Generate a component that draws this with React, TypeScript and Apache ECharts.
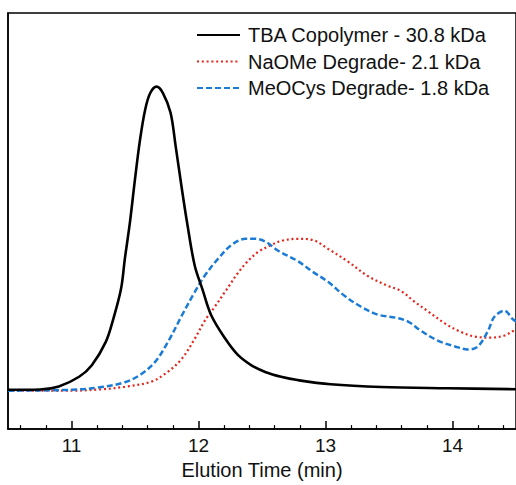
import React, { useEffect, useRef } from "react";
import * as echarts from "echarts";

// Elution time (min) and normalized detector signal for each trace
const tbaTime = [10.5, 10.75, 10.9, 11.06, 11.16, 11.27, 11.33, 11.39, 11.42, 11.46, 11.5, 11.54, 11.58, 11.62, 11.67, 11.72, 11.78, 11.82, 11.87, 11.91, 11.97, 12.03, 12.1, 12.21, 12.31, 12.42, 12.53, 12.65, 12.78, 13.04, 13.44, 13.96, 14.5];
const tbaSignal = [0, 0.001, 0.011, 0.043, 0.081, 0.158, 0.235, 0.333, 0.432, 0.552, 0.695, 0.826, 0.924, 0.979, 1.0, 0.979, 0.914, 0.804, 0.66, 0.552, 0.41, 0.333, 0.246, 0.169, 0.115, 0.08, 0.058, 0.043, 0.032, 0.018, 0.009, 0.005, 0.002];

const naomeTime = [10.5, 11.0, 11.25, 11.42, 11.63, 11.76, 11.87, 11.97, 12.05, 12.13, 12.22, 12.31, 12.39, 12.47, 12.57, 12.65, 12.78, 12.9, 13.02, 13.18, 13.33, 13.49, 13.59, 13.7, 13.81, 13.94, 14.06, 14.17, 14.3, 14.41, 14.48, 14.5];
const naomeSignal = [-0.003, -0.003, 0.002, 0.01, 0.027, 0.06, 0.103, 0.168, 0.228, 0.275, 0.33, 0.385, 0.425, 0.455, 0.477, 0.491, 0.498, 0.494, 0.465, 0.422, 0.376, 0.343, 0.327, 0.291, 0.258, 0.219, 0.192, 0.176, 0.172, 0.179, 0.195, 0.2];

const meocysTime = [10.5, 11.0, 11.22, 11.42, 11.55, 11.66, 11.76, 11.87, 11.97, 12.05, 12.16, 12.26, 12.37, 12.45, 12.53, 12.63, 12.78, 12.89, 13.02, 13.15, 13.28, 13.41, 13.55, 13.65, 13.75, 13.88, 14.02, 14.12, 14.2, 14.28, 14.33, 14.41, 14.47, 14.5];
const meocysSignal = [-0.003, 0.0, 0.008, 0.025, 0.052, 0.093, 0.158, 0.246, 0.322, 0.377, 0.435, 0.478, 0.498, 0.498, 0.488, 0.458, 0.425, 0.392, 0.356, 0.31, 0.274, 0.248, 0.238, 0.225, 0.195, 0.163, 0.143, 0.133, 0.143, 0.195, 0.241, 0.261, 0.235, 0.225];

const seriesNames = ["TBA Copolymer - 30.8 kDa", "NaOMe Degrade- 2.1 kDa", "MeOCys Degrade- 1.8 kDa"];
const majorTicks = [11, 12, 13, 14];
const minorTicks = [10.6, 10.8, 11.2, 11.4, 11.6, 11.8, 12.2, 12.4, 12.6, 12.8, 13.2, 13.4, 13.6, 13.8, 14.2, 14.4];
const xTitle = "Elution Time (min)";

const zip = (xs: number[], ys: number[]) => xs.map((x, i) => [x, ys[i]]);

const FONT = "'Liberation Sans', Arial, Helvetica, sans-serif";

export default function App() {
  const ref = useRef<HTMLDivElement>(null);
  useEffect(() => {
    if (!ref.current) return;
    const chart = echarts.init(ref.current, null, { renderer: "svg" });
    const common = {
      type: "line",
      showSymbol: false,
      symbol: "none",
      smooth: 0.35,
      xAxisIndex: 0,
      yAxisIndex: 0,
    };
    chart.setOption({
      animation: false,
      backgroundColor: "#ffffff",
      grid: {
        left: 8,
        right: -3,
        top: 13,
        bottom: 54,
        show: true,
        borderColor: "#000",
        borderWidth: 1.5,
        backgroundColor: "transparent",
      },
      legend: {
        orient: "vertical",
        left: 196,
        top: 25,
        padding: 0,
        itemWidth: 43,
        itemHeight: 14,
        itemGap: 6.5,
        itemStyle: { opacity: 0 },
        textStyle: { fontFamily: FONT, fontSize: 20, color: "#111", padding: [0, 0, 0, 3] },
        data: seriesNames,
      },
      xAxis: [
        {
          type: "value",
          min: 10.5,
          max: 14.5,
          position: "bottom",
          name: xTitle,
          nameLocation: "middle",
          nameGap: 23,
          nameTextStyle: { fontFamily: FONT, fontSize: 20, color: "#111" },
          axisLine: { show: true, onZero: false, lineStyle: { color: "#000", width: 1.5 } },
          axisTick: { show: true, inside: true, length: 8, customValues: majorTicks, lineStyle: { color: "#000", width: 1.5 } },
          axisLabel: { show: true, customValues: majorTicks, margin: 7, fontFamily: FONT, fontSize: 19, color: "#111" },
          splitLine: { show: false },
        },
        {
          type: "value",
          min: 10.5,
          max: 14.5,
          position: "bottom",
          axisLine: { show: false, onZero: false },
          axisTick: { show: true, inside: true, length: 4, customValues: minorTicks, lineStyle: { color: "#000", width: 1.2 } },
          axisLabel: { show: false },
          splitLine: { show: false },
        },
      ],
      yAxis: {
        type: "value",
        min: -0.1297,
        max: 1.243,
        axisLine: { show: true, onZero: false, lineStyle: { color: "#000", width: 1.5 } },
        axisTick: { show: false },
        axisLabel: { show: false },
        splitLine: { show: false },
      },
      series: [
        {
          ...common,
          name: seriesNames[0],
          data: zip(tbaTime, tbaSignal),
          lineStyle: { color: "#000000", width: 2.6, type: "solid" },
          itemStyle: { color: "#000000" },
          z: 3,
        },
        {
          ...common,
          name: seriesNames[1],
          data: zip(naomeTime, naomeSignal),
          lineStyle: { color: "#e5261c", width: 2.2, type: [2, 2.8], cap: "butt" },
          itemStyle: { color: "#e5261c" },
          z: 2,
        },
        {
          ...common,
          name: seriesNames[2],
          data: zip(meocysTime, meocysSignal),
          lineStyle: { color: "#1c7cd5", width: 2.5, type: [6, 3], cap: "butt" },
          itemStyle: { color: "#1c7cd5" },
          z: 2,
        },
      ],
    });
    return () => chart.dispose();
  }, []);
  return <div ref={ref} style={{ position: "fixed", left: 0, top: 0, width: 516, height: 485, background: "#fff" }} />;
}
